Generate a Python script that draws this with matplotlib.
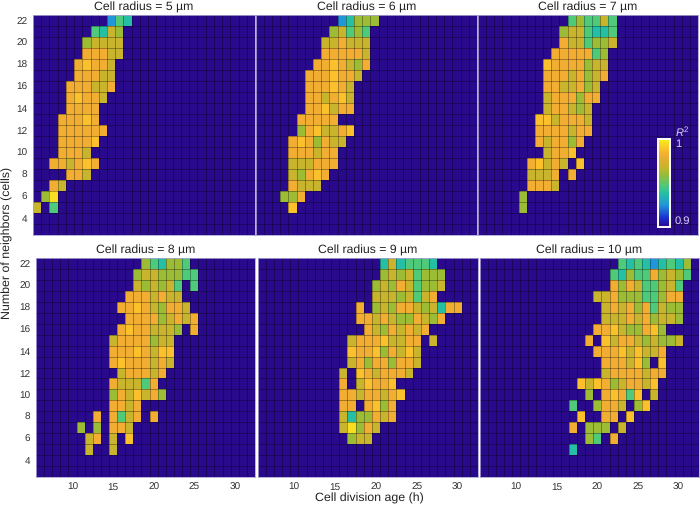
import numpy as np
import matplotlib
matplotlib.use("Agg")
import matplotlib.pyplot as plt
from matplotlib.colors import LinearSegmentedColormap

plt.rcParams["font.family"] = ["Liberation Sans", "DejaVu Sans"]
plt.rcParams["text.hinting"] = "none"
plt.rcParams["mathtext.fontset"] = "custom"
plt.rcParams["mathtext.it"] = "Liberation Sans:italic"
plt.rcParams["mathtext.rm"] = "Liberation Sans"

# R2 in thousandths, row: (first age, values), 0 = no fit
b, t, e, g, l, o, y, Y = 925, 938, 947, 960, 968, 982, 988, 995

radii = [5, 6, 7, 8, 9, 10]
age_values = np.arange(6, 33)
neighbor_values = np.arange(3, 23)
x_ticks = [10, 15, 20, 25, 30]
y_ticks = [4, 6, 8, 10, 12, 14, 16, 18, 20, 22]

r5 = {
    22: (15, [b, e, t]),
    21: (13, [e, t, l, g]),
    20: (12, [g, l, l, l, l]),
    19: (12, [o, o, o, l, l]),
    18: (11, [o, y, o, o, l]),
    17: (11, [o, o, o, l, l]),
    16: (10, [o, o, o, l, l, o]),
    15: (10, [o, y, o, o, l]),
    14: (10, [o, o, o, o]),
    13: (9, [o, o, o, y, o]),
    12: (9, [o, o, o, o, o, o]),
    11: (9, [o, o, o, o, y]),
    10: (9, [o, o, o, l]),
    9: (8, [o, o, l, o, y, o]),
    8: (10, [o, o, l]),
    7: (8, [o, l]),
    6: (7, [g, Y]),
    5: (6, [l, 0, e]),
}
r6 = {
    22: (16, [b, t, g, g, g]),
    21: (15, [g, l, e, g, e]),
    20: (14, [l, l, o, l, l, l]),
    19: (14, [o, o, o, o, o, l]),
    18: (13, [o, o, y, o, l, g, o]),
    17: (12, [o, o, o, y, o, o, l]),
    16: (12, [o, o, o, y, o, l]),
    15: (12, [o, o, l, o, y, l]),
    14: (12, [o, o, y, l, o, o]),
    13: (11, [o, o, o, o, o]),
    12: (11, [g, o, y, l, l, o, y]),
    11: (10, [o, y, o, g, o, l, l]),
    10: (10, [o, o, o, l, o, o]),
    9: (10, [l, l, l, o, o, o]),
    8: (10, [l, g, o, y, o]),
    7: (10, [o, l, l, l]),
    6: (9, [g, g, o]),
    5: (10, [y]),
}
r7 = {
    22: (17, [e, g, e, e, l, e]),
    21: (16, [g, l, l, e, t, t, e]),
    20: (16, [o, l, l, e, g, g, l]),
    19: (15, [o, o, o, o, o, e, g]),
    18: (14, [y, o, o, o, o, g, l, l]),
    17: (14, [o, o, o, l, o, g, l, o]),
    16: (14, [o, o, l, l, o, g, l]),
    15: (14, [l, o, o, o, g, o, o]),
    14: (14, [l, o, o, l, g, l]),
    13: (13, [y, y, l, o, o, o, l]),
    12: (13, [o, o, o, o, l, o, o]),
    11: (13, [o, l, o, o, g, o]),
    10: (14, [l, o, o, y]),
    9: (12, [o, y, l, o, l, 0, y]),
    8: (12, [l, l, l, o, 0, o]),
    7: (12, [o, o, o, l]),
    6: (11, [g]),
    5: (11, [g]),
}
r8 = {
    22: (19, [g, e, t, g, g, e]),
    21: (18, [g, l, l, g, g, g, e, e]),
    20: (18, [l, g, l, g, l, e, 0, e]),
    19: (17, [o, o, o, l, o, l, l]),
    18: (16, [o, o, y, o, l, g, o, o, l]),
    17: (17, [o, o, o, o, g, l, o, l, o]),
    16: (16, [o, y, o, o, l, l, l, g, 0, o]),
    15: (15, [l, o, o, o, o, g, l, l]),
    14: (15, [o, o, o, y, o, l, y, y]),
    13: (15, [o, y, o, o, o, l, o, l]),
    12: (16, [l, o, o, o, l, o]),
    11: (15, [o, l, l, l, e, o]),
    10: (15, [g, o, l, y, l, o, g]),
    9: (15, [o, o, l, o]),
    8: (13, [o, 0, o, e, l, o, 0, o]),
    7: (11, [g, 0, g, 0, o, o, l]),
    6: (12, [l, o, 0, l, 0, y]),
    5: (12, [l, 0, 0, l]),
}
r9 = {
    22: (21, [t, l, t, e, e, e, t]),
    21: (21, [g, l, g, l, e, g, g, g]),
    20: (20, [g, l, g, o, l, e, g, g, l]),
    19: (20, [l, l, l, g, l, e, l, o]),
    18: (18, [o, 0, g, l, g, o, o, l, g, l, t, o, o]),
    17: (18, [o, o, l, o, l, g, g, o, l, g, o]),
    16: (19, [o, l, g, o, l, o, l, o]),
    15: (17, [l, o, o, o, y, l, l, o, o, 0, l]),
    14: (17, [y, o, o, y, g, o, l, y, l]),
    13: (17, [l, o, g, o, o, g, o, o, l]),
    12: (16, [l, 0, y, o, l, o, o, o, l]),
    11: (16, [o, 0, l, y, o, o, y]),
    10: (16, [o, o, l, o, o, l, o, y]),
    9: (16, [o, o, 0, o, y, g, o]),
    8: (16, [l, t, g, g, o, l, o]),
    7: (16, [l, Y, g, o, l]),
    6: (17, [g, l, l]),
}
r10 = {
    22: (23, [e, t, e, t, b, t, e, t, g]),
    21: (22, [e, t, g, e, e, o, g, l, g, e]),
    20: (22, [o, g, o, l, e, e, g, l, e]),
    19: (20, [l, l, o, g, g, g, e, e, g, o, o]),
    18: (21, [l, o, l, o, g, o, e, l, g, g]),
    17: (21, [l, l, l, o, l, o, g, l, l, g]),
    16: (20, [o, o, y, l, g, g, o, y, g]),
    15: (19, [o, 0, y, l, o, o, l, g, l, g, g, l]),
    14: (20, [o, o, o, y, l, y, l, l, o]),
    13: (21, [o, o, o, l, y, g, 0, y]),
    12: (21, [l, o, o, o, o, l, o, o]),
    11: (18, [y, l, y, o, g, l, o, o, l, y]),
    10: (19, [g, 0, o, y, o, e, y, 0, l]),
    9: (17, [e, 0, 0, g, o, o, l, 0, g, y]),
    8: (18, [y, 0, 0, o, o, 0, y]),
    7: (17, [o, 0, g, g, g, 0, l]),
    6: (19, [g, e, 0, o]),
    5: (17, [t]),
}
panels = [r5, r6, r7, r8, r9, r10]

# axes boxes in pixels: left, right, top, bottom
boxes = [
    (33, 255, 15, 235),
    (255.5, 477, 15, 235),
    (478, 698, 15, 235),
    (36, 255, 258, 477),
    (257.5, 478, 258, 477),
    (479.5, 699, 258, 477),
]

W, H = 700, 509
cmap = LinearSegmentedColormap.from_list("r2", [
    (0.00, "#2a0a8c"), (0.10, "#1c2fd0"), (0.25, "#2196d8"), (0.38, "#25bfa5"),
    (0.47, "#4fc97a"), (0.60, "#9cbc35"), (0.68, "#c8b42d"), (0.82, "#f2ae33"),
    (0.88, "#fac02c"), (1.00, "#f8f018"),
])


def make_grid(rows):
    grid = np.full((len(neighbor_values), len(age_values)), 900.0)
    for row, (first, vals) in rows.items():
        for i, v in enumerate(vals):
            if v:
                grid[row - 3, first - 6 + i] = v
    return grid / 1000


fig = plt.figure(figsize=(7, 5.09), dpi=100)
x_edges = np.arange(5.5, 33)
y_edges = np.arange(2.5, 23)

for n, (rows, box) in enumerate(zip(panels, boxes)):
    left, right, top, bottom = box
    ax = fig.add_axes([left / W, 1 - bottom / H, (right - left) / W, (bottom - top) / H])
    ax.pcolormesh(x_edges, y_edges, make_grid(rows), cmap=cmap, vmin=0.9, vmax=1)
    # thin cell outlines drawn over the mesh
    ax.vlines(x_edges[1:-1], y_edges[0], y_edges[-1], color="black", alpha=0.45, linewidth=0.5)
    ax.hlines(y_edges[1:-1], x_edges[0], x_edges[-1], color="black", alpha=0.45, linewidth=0.5)
    ax.set_title("Cell radius = %d µm" % radii[n], fontsize=8.8, color="#222222", pad=3)
    ax.tick_params(length=0, labelsize=7.2, colors="#333333", pad=4)
    ax.set_xticks(x_ticks)
    ax.set_yticks(y_ticks)
    if n < 3:
        ax.set_xticklabels([])
    if n % 3 != 0:
        ax.set_yticklabels([])
    for s in ax.spines.values():
        s.set_color("#a9a3d0")
        s.set_linewidth(0.6)

# R2 scale on top of the third panel
cax = fig.add_axes([658 / W, 1 - 227 / H, 12 / W, 88 / H])
cax.imshow(np.linspace(1, 0, 256).reshape(-1, 1), cmap=cmap, aspect="auto")
cax.set_xticks([])
cax.set_yticks([])
for s in cax.spines.values():
    s.set_color("white")
    s.set_linewidth(1.4)
fig.text(682 / W, 1 - 131 / H, "$\\mathit{R}^2$", color="#d8d4f0", fontsize=8,
         ha="center", va="center")
fig.text(675 / W, 1 - 144 / H, "1", color="#d8d4f0", fontsize=8, ha="left", va="center")
fig.text(675 / W, 1 - 221 / H, "0.9", color="#d8d4f0", fontsize=8, ha="left", va="center")

fig.text(7 / W, 1 - 242.5 / H, "Number of neighbors (cells)", rotation=90, fontsize=8.9,
         color="#222222", ha="center", va="center")
fig.text(369 / W, 1 - 498 / H, "Cell division age (h)", fontsize=8.9,
         color="#222222", ha="center", va="center")

fig.savefig("out.png", dpi=100)
plt.close(fig)
